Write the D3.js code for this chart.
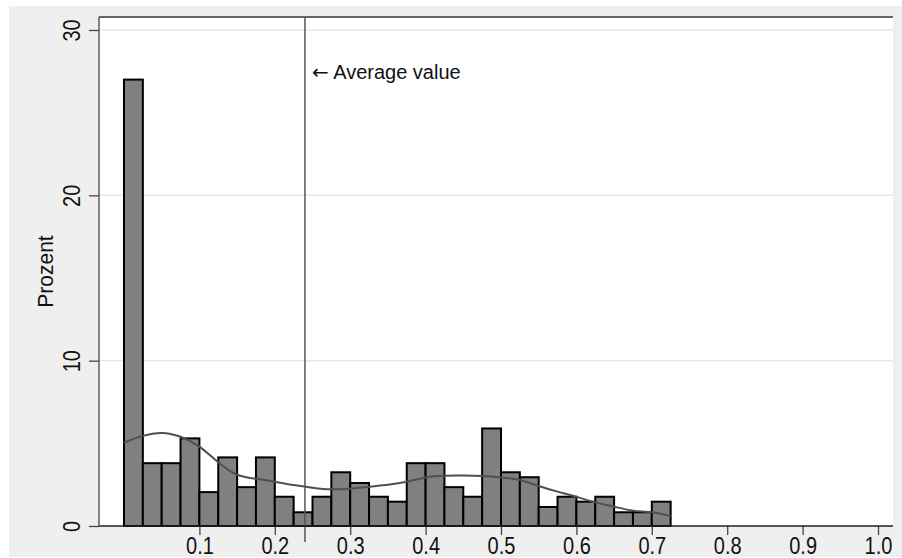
<!DOCTYPE html>
<html>
<head>
<meta charset="utf-8">
<script src="https://cdn.jsdelivr.net/npm/d3@7"></script>
<style>
  body { margin: 0; background: #fff; }
  text { font-family: "Liberation Sans", Arial, sans-serif; fill: #111; }
</style>
</head>
<body>
<div id="chart"></div>
<script>
const W = 902, H = 558;

// histogram bins (lower edge, width 0.025) and percent heights
const binStarts = [0, 0.025, 0.05, 0.075, 0.1, 0.125, 0.15, 0.175, 0.2, 0.225,
  0.25, 0.275, 0.3, 0.325, 0.35, 0.375, 0.4, 0.425, 0.45, 0.475,
  0.5, 0.525, 0.55, 0.575, 0.6, 0.625, 0.65, 0.675, 0.7];
const binWidth = 0.025;
const percents = [27.0, 3.8, 3.8, 5.3, 2.05, 4.15, 2.35, 4.15, 1.77, 0.83,
  1.77, 3.25, 2.6, 1.77, 1.47, 3.8, 3.8, 2.35, 1.77, 5.9,
  3.25, 2.95, 1.15, 1.77, 1.47, 1.77, 0.83, 0.83, 1.47];

// density curve
const densX = [0, 0.025, 0.05, 0.075, 0.1, 0.125, 0.15, 0.175, 0.2, 0.225, 0.25,
  0.275, 0.3, 0.325, 0.35, 0.375, 0.4, 0.425, 0.45, 0.475, 0.5, 0.525,
  0.55, 0.575, 0.6, 0.625, 0.65, 0.675, 0.7, 0.725];
const densY = [5.05, 5.45, 5.63, 5.4, 4.8, 3.85, 3.1, 2.86, 2.68, 2.48, 2.32,
  2.22, 2.26, 2.38, 2.5, 2.68, 2.94, 3.04, 3.05, 3.02, 2.94, 2.78,
  2.42, 2.08, 1.77, 1.43, 1.17, 0.93, 0.83, 0.6];

const xTicks = [0.1, 0.2, 0.3, 0.4, 0.5, 0.6, 0.7, 0.8, 0.9, 1.0];
const yTicks = [0, 10, 20, 30];
const meanValue = 0.24;
const yLabel = "Prozent";
const noteArrow = "\u2190";
const noteText = " Average value";

const plot = { left: 99, right: 893, top: 17, bottom: 526 };

const x = d3.scaleLinear().domain([0, 1]).range([124, 878]);
const y = d3.scaleLinear().domain([0, 30]).range([526, 30]);

const svg = d3.select("#chart").append("svg").attr("width", W).attr("height", H);

// outer gray panel + white plot region
svg.append("rect").attr("x", 9).attr("y", 6).attr("width", W - 9).attr("height", H - 7)
  .attr("fill", "#efefef");
svg.append("rect").attr("x", plot.left).attr("y", plot.top)
  .attr("width", plot.right - plot.left).attr("height", plot.bottom - plot.top)
  .attr("fill", "#fff");

// gridlines
svg.append("g").selectAll("line").data(yTicks.filter(d => d > 0)).enter().append("line")
  .attr("x1", plot.left).attr("x2", plot.right)
  .attr("y1", d => y(d)).attr("y2", d => y(d))
  .attr("stroke", "#e6e6e6").attr("stroke-width", 1.5);

// top border
svg.append("line").attr("x1", plot.left).attr("x2", plot.right)
  .attr("y1", plot.top).attr("y2", plot.top)
  .attr("stroke", "#666").attr("stroke-width", 2);

// bars
svg.append("g").selectAll("rect").data(binStarts).enter().append("rect")
  .attr("x", d => x(d))
  .attr("width", d => x(d + binWidth) - x(d))
  .attr("y", (d, i) => y(percents[i]))
  .attr("height", (d, i) => y(0) - y(percents[i]))
  .attr("fill", "#808080").attr("stroke", "#000").attr("stroke-width", 2);

// density line
const line = d3.line().x(d => x(d[0])).y(d => y(d[1])).curve(d3.curveNatural);
svg.append("path").datum(densX.map((v, i) => [v, densY[i]]))
  .attr("d", line).attr("fill", "none")
  .attr("stroke", "#505050").attr("stroke-width", 2);

// mean line + note
svg.append("line").attr("x1", x(meanValue)).attr("x2", x(meanValue))
  .attr("y1", plot.top).attr("y2", 542)
  .attr("stroke", "#555").attr("stroke-width", 1.5);
const note = svg.append("text").attr("x", x(meanValue) + 7).attr("y", 79)
  .attr("font-size", "20px");
note.append("tspan").attr("font-family", "DejaVu Sans").attr("font-size", "20px").text(noteArrow);
note.append("tspan").text(noteText);

// x axis
const xAxis = svg.append("g").attr("transform", `translate(0,${plot.bottom})`)
  .call(d3.axisBottom(x).tickValues(xTicks).tickSize(9).tickFormat(d3.format(".1f")));
xAxis.select(".domain").remove();
xAxis.selectAll(".tick line").attr("stroke", "#444").attr("stroke-width", 1.3);
xAxis.selectAll(".tick text")
  .attr("font-size", "20px").attr("font-family", "Liberation Sans, Arial, sans-serif")
  .attr("fill", "#111").attr("y", null).attr("dy", null)
  .attr("transform", "translate(0,27.5) scale(1,1.15)");
svg.append("line").attr("x1", plot.left).attr("x2", plot.right)
  .attr("y1", plot.bottom).attr("y2", plot.bottom)
  .attr("stroke", "#222").attr("stroke-width", 1.3);

// y axis
const yAxis = svg.append("g").attr("transform", `translate(${plot.left},0)`)
  .call(d3.axisLeft(y).tickValues(yTicks).tickSize(10).tickFormat(d3.format("d")));
yAxis.select(".domain").remove();
yAxis.selectAll(".tick line").attr("stroke", "#444").attr("stroke-width", 1.3);
yAxis.selectAll(".tick text")
  .attr("font-size", "20px").attr("font-family", "Liberation Sans, Arial, sans-serif")
  .attr("fill", "#111")
  .attr("x", null).attr("dy", null)
  .attr("text-anchor", "middle")
  .attr("transform", "translate(-19,0) rotate(-90) scale(1,1.18)");
svg.append("line").attr("x1", plot.left).attr("x2", plot.left)
  .attr("y1", plot.top).attr("y2", plot.bottom)
  .attr("stroke", "#444").attr("stroke-width", 1.3);

svg.append("text")
  .attr("transform", `translate(53,${(plot.top + plot.bottom) / 2}) rotate(-90) scale(1,1.08)`)
  .attr("text-anchor", "middle").attr("font-size", "21px").text(yLabel);
</script>
</body>
</html>
